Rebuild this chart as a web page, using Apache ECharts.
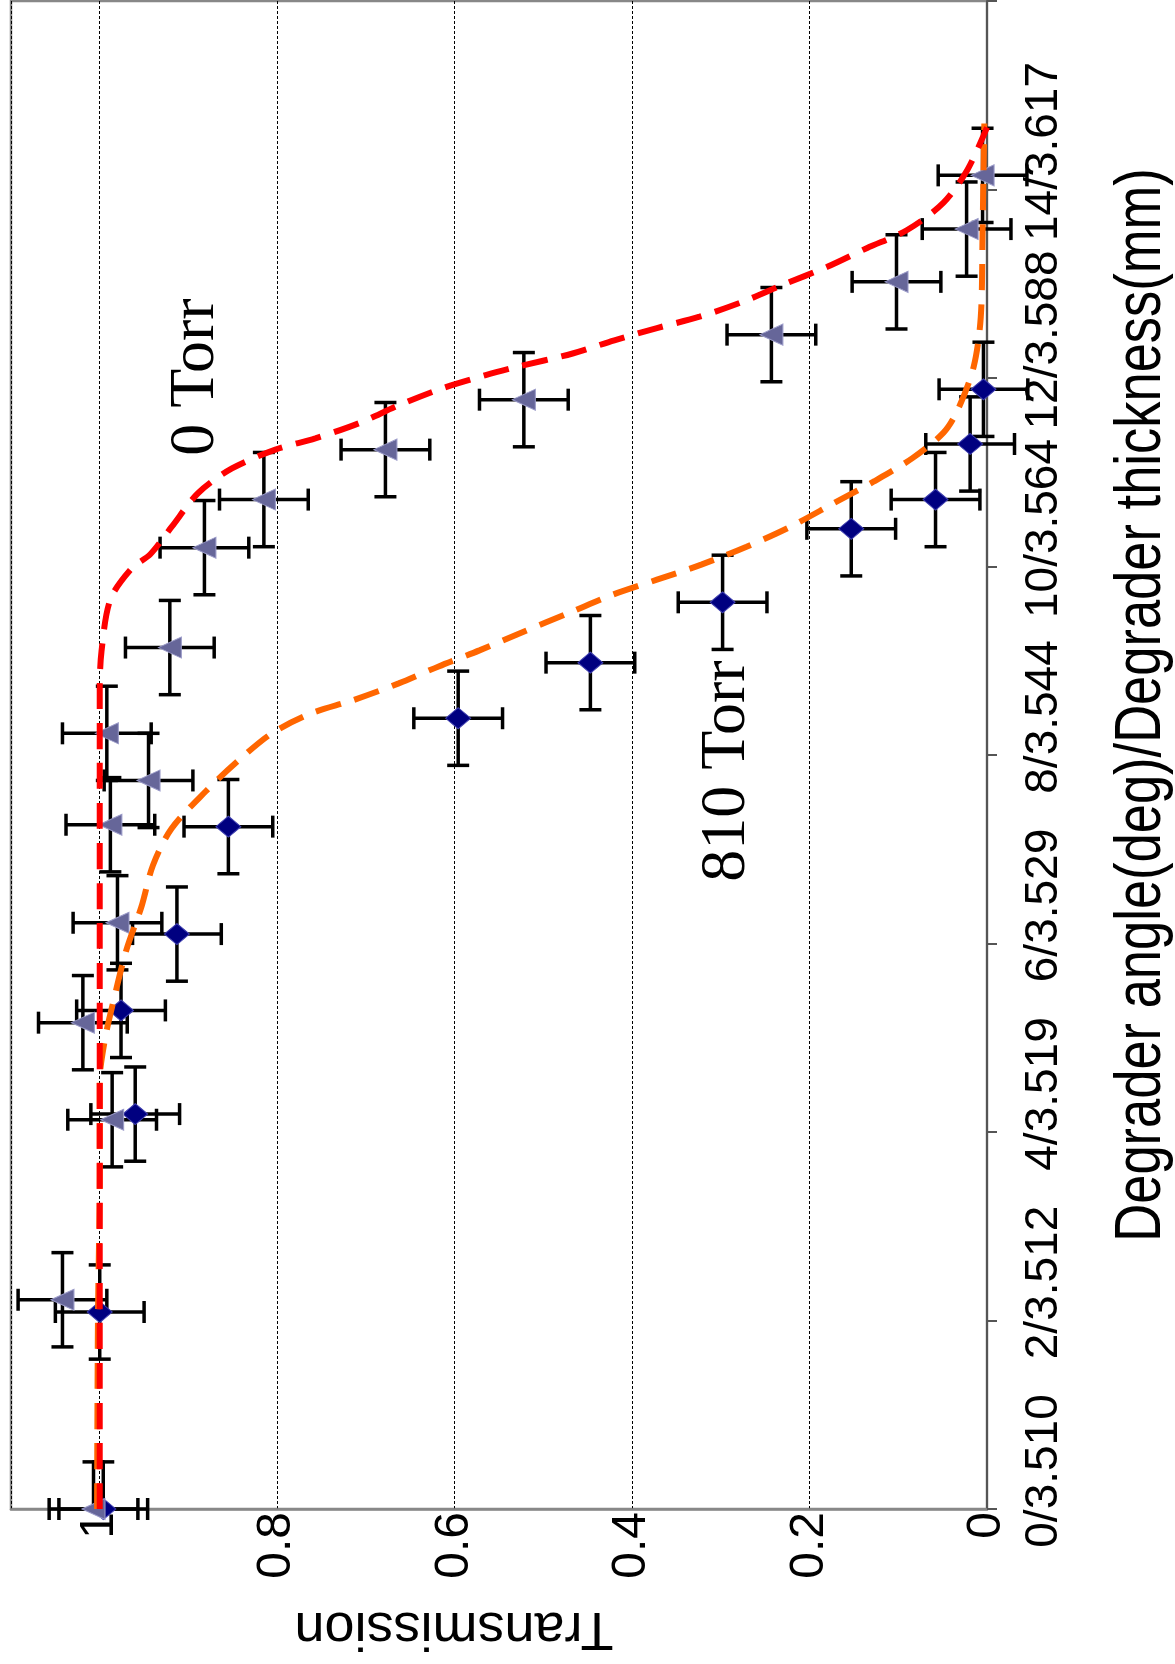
<!DOCTYPE html>
<html><head><meta charset="utf-8">
<script src="https://cdn.jsdelivr.net/npm/echarts@6/dist/echarts.min.js"></script>
<style>html,body{margin:0;padding:0;background:#fff}#c{width:1175px;height:1664px}</style>
</head><body><div id="c"></div>
<script>
// Degrader angle axis ticks and their labels (angle / thickness)
const angleTicks = [0, 2, 4, 6, 8, 10, 12, 14, 16];
const angleTickLabels = ["0/3.510", "2/3.512", "4/3.519", "6/3.529", "8/3.544", "10/3.564", "12/3.588", "14/3.617", ""];
const transTickLabels = ["0", "0.2", "0.4", "0.6", "0.8", "1"];
const angleTitle = "Degrader angle(deg)/Degrader thickness(mm)";
const transTitle = "Transmission";

// 810 Torr measurements (blue diamonds)
const torr810Angle = [0, 2.09, 4.19, 5.29, 6.10, 7.24, 8.39, 8.98, 9.62, 10.40, 10.71, 11.30, 11.88];
const torr810Trans = [0.996, 1.0, 0.960, 0.976, 0.913, 0.855, 0.596, 0.447, 0.298, 0.153, 0.058, 0.019, 0.004];
const torr810TransErr = [0.05, 0.05, 0.05, 0.05, 0.05, 0.05, 0.05, 0.05, 0.05, 0.05, 0.05, 0.05, 0.05];
const torr810AngleErr = [0.5, 0.5, 0.5, 0.5, 0.5, 0.5, 0.5, 0.5, 0.5, 0.5, 0.5, 0.5, 0.5];

// 0 Torr measurements (grey triangles)
const torr0Angle = [0, 2.22, 4.13, 5.16, 6.22, 7.26, 7.73, 8.23, 9.14, 10.20, 10.71, 11.24, 11.77, 12.46, 13.02, 13.58, 14.15];
const torr0Trans = [1.007, 1.042, 0.986, 1.019, 0.980, 0.988, 0.945, 0.992, 0.921, 0.882, 0.815, 0.678, 0.522, 0.243, 0.102, 0.023, 0.005];
const torr0TransErr = [0.05, 0.05, 0.05, 0.05, 0.05, 0.05, 0.05, 0.05, 0.05, 0.05, 0.05, 0.05, 0.05, 0.05, 0.05, 0.05, 0.05];
const torr0AngleErr = [0.5, 0.5, 0.5, 0.5, 0.5, 0.5, 0.5, 0.5, 0.5, 0.5, 0.5, 0.5, 0.5, 0.5, 0.5, 0.5, 0.5];

// Fitted curves
const fit0Angle = [0, 2, 4, 6, 8, 8.7, 9.1, 9.65, 9.98, 10.13, 10.42, 10.78, 11.04, 11.24, 11.36, 11.52, 11.71, 11.89, 12.03, 12.12, 12.26, 12.40, 12.53, 12.65, 12.81, 12.99, 13.18, 13.38, 13.57, 13.86, 14.21, 14.66];
const fit0Trans = [1.0, 1.0, 1.0, 1.0, 1.0, 1.0, 0.998, 0.988, 0.964, 0.943, 0.919, 0.889, 0.851, 0.802, 0.757, 0.708, 0.663, 0.614, 0.565, 0.529, 0.467, 0.420, 0.372, 0.324, 0.275, 0.230, 0.180, 0.135, 0.090, 0.049, 0.022, 0.0];
const fit810Angle = [0, 2, 3.56, 4.55, 4.99, 5.37, 5.93, 6.39, 6.83, 7.22, 7.61, 7.93, 8.23, 8.44, 8.58, 8.76, 8.94, 9.11, 9.29, 9.52, 9.70, 9.86, 10.02, 10.21, 10.42, 10.67, 10.90, 11.15, 11.42, 11.66, 12.12, 12.65, 13.54, 14.15, 14.7];
const fit810Trans = [1.003, 1.002, 1.0, 1.0, 0.994, 0.985, 0.970, 0.953, 0.940, 0.919, 0.881, 0.845, 0.806, 0.762, 0.715, 0.663, 0.618, 0.572, 0.527, 0.468, 0.422, 0.372, 0.322, 0.271, 0.222, 0.173, 0.128, 0.084, 0.049, 0.033, 0.015, 0.007, 0.005, 0.004, 0.003];

const zip = (xs, ys) => xs.map((x, i) => [x, ys[i]]);
const errData = (t, a, et, ea) => t.map((v, i) => [v, a[i], et[i], ea[i]]);

function errRender(params, api) {
  const T = api.value(0), A = api.value(1), eT = api.value(2), eA = api.value(3);
  const cs = params.coordSys;
  const c = api.coord([T, A]);
  const xa = api.coord([T + eT, A])[0], xb = api.coord([T - eT, A])[0];
  const yTop = api.coord([T, A + eA])[1], yBot = api.coord([T, A - eA])[1];
  const ymin = cs.y, ymax = cs.y + cs.height;
  const cap = 11;
  const style = { stroke: '#000', lineWidth: 3.5 };
  const ch = [
    { type: 'line', shape: { x1: xa, y1: c[1], x2: xb, y2: c[1] }, style },
    { type: 'line', shape: { x1: xa, y1: c[1] - cap, x2: xa, y2: c[1] + cap }, style },
    { type: 'line', shape: { x1: xb, y1: c[1] - cap, x2: xb, y2: c[1] + cap }, style },
    { type: 'line', shape: { x1: c[0], y1: Math.max(yTop, ymin), x2: c[0], y2: Math.min(yBot, ymax) }, style }
  ];
  if (yTop >= ymin) ch.push({ type: 'line', shape: { x1: c[0] - cap, y1: yTop, x2: c[0] + cap, y2: yTop }, style });
  if (yBot <= ymax) ch.push({ type: 'line', shape: { x1: c[0] - cap, y1: yBot, x2: c[0] + cap, y2: yBot }, style });
  return { type: 'group', children: ch };
}

const FONT = '"Liberation Sans", Arial, sans-serif';
const SERIF = '"Liberation Serif", "Times New Roman", serif';
const chart = echarts.init(document.getElementById('c'), null, { renderer: 'canvas' });
chart.setOption({
  animation: false,
  backgroundColor: '#fff',
  grid: { left: 11, right: 188, top: 1, bottom: 155, show: true, borderColor: '#888', borderWidth: 2.5, outerBoundsMode: 'none', containLabel: false },
  xAxis: {
    type: 'value', min: 0, max: 1.1, interval: 0.2, inverse: true, position: 'bottom',
    name: transTitle, nameLocation: 'middle', nameGap: 92, nameRotate: 180,
    nameTextStyle: { fontSize: 54, fontFamily: FONT, color: '#000', padding: [0, 0, 0, 90] },
    axisLine: { show: true, lineStyle: { color: '#888', width: 2.5 } },
    axisTick: { show: false },
    axisLabel: {
      rotate: 90, margin: 3, fontSize: 48, fontFamily: FONT, color: '#000', showMaxLabel: false,
      formatter: v => { const i = Math.round(v / 0.2); return Math.abs(v - i * 0.2) < 1e-6 && i < transTickLabels.length ? transTickLabels[i] : ''; }
    },
    splitLine: { show: true, lineStyle: { color: '#000', width: 1, type: [3, 2] } }
  },
  yAxis: {
    type: 'value', min: 0, max: 16, interval: 2, position: 'right',
    axisLine: { show: true, onZero: false, lineStyle: { color: '#555', width: 2 } },
    axisTick: { show: true, inside: false, length: 10, lineStyle: { color: '#555', width: 2 } },
    axisLabel: {
      rotate: 90, margin: 34, fontSize: 46, fontFamily: FONT, color: '#000', padding: [0, 0, 0, 76],
      formatter: v => { const i = angleTicks.indexOf(Math.round(v)); return i >= 0 ? angleTickLabels[i] : ''; }
    },
    splitLine: { show: false }
  },
  graphic: [
    { type: 'text', x: 1142, y: 705, rotation: Math.PI / 2, scaleX: 0.82, scaleY: 1, z: 100,
      style: { text: angleTitle, font: '64px ' + FONT, fill: '#000', textAlign: 'center', textVerticalAlign: 'middle', align: 'center', verticalAlign: 'middle' } },
    { type: 'text', x: 196, y: 377, rotation: Math.PI / 2, z: 100,
      style: { text: '0 Torr', font: '64px ' + SERIF, fill: '#000', textAlign: 'center', textVerticalAlign: 'middle', align: 'center', verticalAlign: 'middle' } },
    { type: 'text', x: 727, y: 771, rotation: Math.PI / 2, z: 100,
      style: { text: '810 Torr', font: '64px ' + SERIF, fill: '#000', textAlign: 'center', textVerticalAlign: 'middle', align: 'center', verticalAlign: 'middle' } }
  ],
  series: [
    { name: '810 Torr error', type: 'custom', renderItem: errRender, encode: { x: 0, y: 1 }, z: 2,
      data: errData(torr810Trans, torr810Angle, torr810TransErr, torr810AngleErr) },
    { name: '0 Torr error', type: 'custom', renderItem: errRender, encode: { x: 0, y: 1 }, z: 2,
      data: errData(torr0Trans, torr0Angle, torr0TransErr, torr0AngleErr) },
    { name: '810 Torr', type: 'scatter', symbol: 'diamond', symbolSize: [25, 21], z: 3,
      itemStyle: { color: '#000080', borderColor: '#4040b0', borderWidth: 1, opacity: 1 },
      data: zip(torr810Trans, torr810Angle) },
    { name: '0 Torr', type: 'scatter', symbol: 'triangle', symbolSize: [21, 23], symbolRotate: 90, z: 4,
      itemStyle: { color: '#666699', borderColor: '#9a9ac8', borderWidth: 1, opacity: 1 },
      data: zip(torr0Trans, torr0Angle) },
    { name: '810 Torr fit', type: 'line', smooth: 0.3, showSymbol: false, symbol: 'none', z: 5,
      lineStyle: { color: '#ff6600', width: 6, type: [26, 14] },
      data: zip(fit810Trans, fit810Angle) },
    { name: '0 Torr fit', type: 'line', smooth: 0.3, showSymbol: false, symbol: 'none', z: 6,
      lineStyle: { color: '#ff0000', width: 6, type: [26, 14] },
      data: zip(fit0Trans, fit0Angle) }
  ]
});
</script></body></html>
